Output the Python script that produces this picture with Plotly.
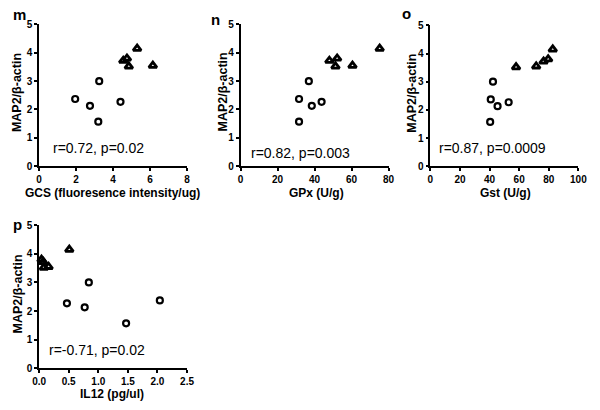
import plotly.graph_objects as go

# ---- data ----
map2_circle = [2.37, 2.13, 1.57, 3.00, 2.27]
map2_triangle = [3.72, 3.80, 3.52, 3.55, 4.15]

gcs_circle = [1.95, 2.75, 3.20, 3.25, 4.40]
gcs_triangle = [4.55, 4.75, 4.85, 6.15, 5.30]

gpx_circle = [31.6, 38.5, 31.6, 36.9, 43.8]
gpx_triangle = [48.0, 52.2, 51.3, 60.5, 75.2]

gst_circle = [40.8, 45.4, 40.4, 42.3, 52.9]
gst_triangle = [76.5, 79.6, 57.9, 71.5, 82.7]

il12_circle = [2.04, 0.77, 1.47, 0.84, 0.47]
il12_triangle = [0.07, 0.04, 0.08, 0.16, 0.51]

panels = [
    dict(letter="m", xlabel="GCS (fluoresence intensity/ug)", xc=gcs_circle, xt=gcs_triangle,
         xrange=[0, 8], dtick=2, stat="r=0.72, p=0.02"),
    dict(letter="n", xlabel="GPx (U/g)", xc=gpx_circle, xt=gpx_triangle,
         xrange=[0, 80], dtick=20, stat="r=0.82, p=0.003"),
    dict(letter="o", xlabel="Gst (U/g)", xc=gst_circle, xt=gst_triangle,
         xrange=[0, 100], dtick=20, stat="r=0.87, p=0.0009"),
    dict(letter="p", xlabel="IL12 (pg/ul)", xc=il12_circle, xt=il12_triangle,
         xrange=[0, 2.5], dtick=0.5, stat="r=-0.71, p=0.02"),
]

W, H = 600, 410
def px(x):
    return x / W
def py(y):
    return 1 - y / H

# plot boxes in pixels: (left, right, top, bottom)
boxes = [(33, 185, 19, 165), (240, 392, 19, 165), (435, 587, 20, 165), (33, 185, 226, 373)]
# annotation positions
letter_pos = [(13, 9), (214, 14), (410, 8), (11, 225)]
ytitle_x = [11, 222, 416, 11]
xtitle_pos = [(108, 193), (318, 193), (512, 193), (108, 400)]
stat_pos = [(45, 146), (249, 151), (442, 146), (41, 354)]

FONT = "Liberation Sans, Arial, sans-serif"
fig = go.Figure()
annotations = []
layout_axes = {}

for i, p in enumerate(panels):
    n = i + 1
    xa = "x" if n == 1 else f"x{n}"
    ya = "y" if n == 1 else f"y{n}"
    fig.add_trace(go.Scatter(
        x=p["xc"], y=map2_circle, xaxis=xa, yaxis=ya, mode="markers",
        marker=dict(symbol="circle-open", size=6, color="black", line=dict(width=2.2)),
        cliponaxis=False, showlegend=False))
    fig.add_trace(go.Scatter(
        x=p["xt"], y=map2_triangle, xaxis=xa, yaxis=ya, mode="markers",
        marker=dict(symbol="triangle-up-open", size=7, color="black", line=dict(width=2.8)),
        cliponaxis=False, showlegend=False))
    l, r, t, b = boxes[i]
    axis_common = dict(showgrid=False, zeroline=False, showline=True, linecolor="black",
                       linewidth=1.5, ticks="outside", ticklen=3, tickwidth=1.5, tickcolor="black",
                       tickfont=dict(family=FONT, size=10, color="black", weight="bold"),
                       fixedrange=True)
    layout_axes["xaxis" if n == 1 else f"xaxis{n}"] = dict(
        domain=[px(l), px(r)], range=p["xrange"], dtick=p["dtick"], tick0=0,
        anchor=ya, tickformat=".1f" if p["dtick"] < 1 else "d", **axis_common)
    layout_axes["yaxis" if n == 1 else f"yaxis{n}"] = dict(
        domain=[py(b), py(t)], range=[0, 5], dtick=1, tick0=0, anchor=xa, **axis_common)

    lx, ly = letter_pos[i]
    annotations.append(dict(text=p["letter"], x=px(lx), y=py(ly), xref="paper", yref="paper",
                            showarrow=False, xanchor="center", yanchor="middle",
                            font=dict(family=FONT, size=15, color="black", weight="bold")))
    annotations.append(dict(text="MAP2/β-actin", x=px(ytitle_x[i]), y=py((t + b) / 2 - 3),
                            xref="paper", yref="paper", showarrow=False, textangle=-90,
                            xanchor="center", yanchor="middle",
                            font=dict(family=FONT, size=12.5, color="black", weight="bold")))
    tx, ty = xtitle_pos[i]
    annotations.append(dict(text=p["xlabel"], x=px(tx), y=py(ty), xref="paper", yref="paper",
                            showarrow=False, xanchor="center", yanchor="middle",
                            font=dict(family=FONT, size=12, color="black", weight="bold")))
    sx, sy = stat_pos[i]
    annotations.append(dict(text=p["stat"], x=px(sx), y=py(sy), xref="paper", yref="paper",
                            showarrow=False, xanchor="left", yanchor="middle",
                            font=dict(family=FONT, size=14, color="black")))

fig.update_layout(width=W, height=H, margin=dict(l=0, r=0, t=0, b=0),
                  paper_bgcolor="white", plot_bgcolor="white",
                  annotations=annotations, **layout_axes)
fig.write_html("out.html", config={"displayModeBar": False},
               post_script="document.body.style.margin='0px';")
